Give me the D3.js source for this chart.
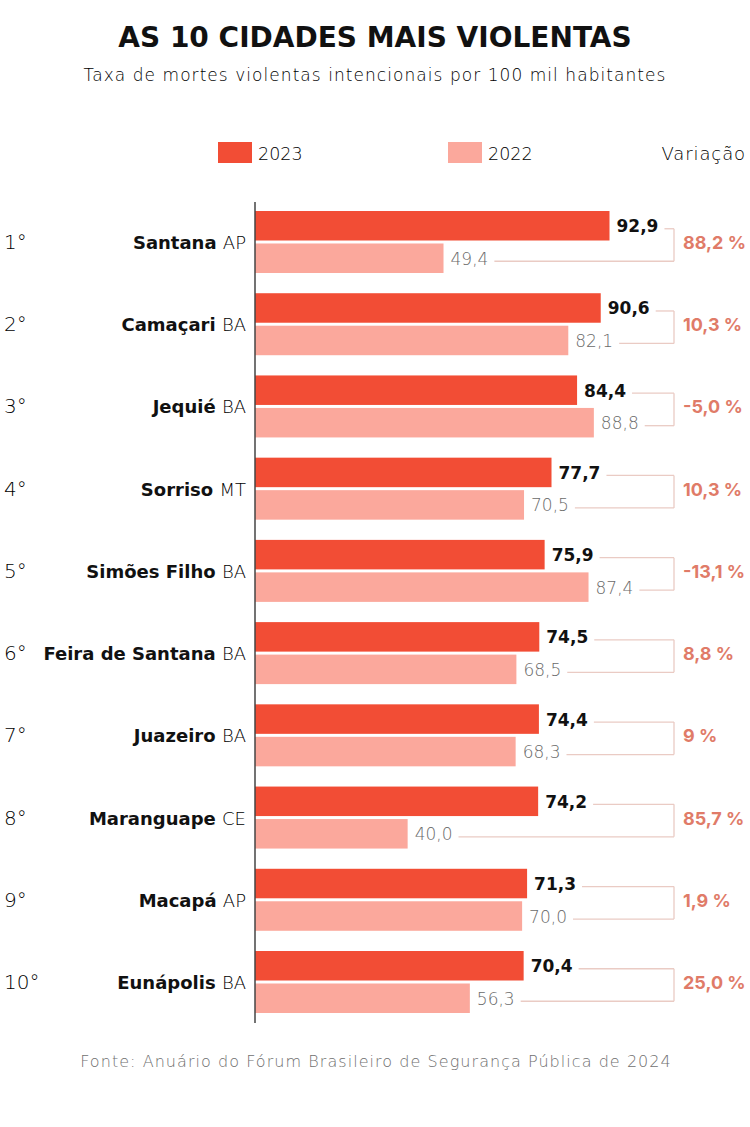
<!DOCTYPE html>
<html><head><meta charset="utf-8">
<script src="https://cdn.jsdelivr.net/npm/d3@7"></script>
<style>body{margin:0;background:#fff}svg{display:block}</style>
</head><body>
<svg id="c" width="750" height="1127"></svg>
<script>
const ranks = ["1°","2°","3°","4°","5°","6°","7°","8°","9°","10°"];
const cities = ["Santana","Camaçari","Jequié","Sorriso","Simões Filho","Feira de Santana","Juazeiro","Maranguape","Macapá","Eunápolis"];
const states = ["AP","BA","BA","MT","BA","BA","BA","CE","AP","BA"];
const series = ["2023","2022"];
const values2023 = [92.9,90.6,84.4,77.7,75.9,74.5,74.4,74.2,71.3,70.4];
const values2022 = [49.4,82.1,88.8,70.5,87.4,68.5,68.3,40.0,70.0,56.3];
const variation = ["88,2 %","10,3 %","-5,0 %","10,3 %","-13,1 %","8,8 %","9 %","85,7 %","1,9 %","25,0 %"];

const FONT = "'DejaVu Sans', sans-serif";
const FONT2 = "Inter, 'DejaVu Sans', sans-serif";
const C23 = "#f24d35", C22 = "#fba89c", CVAR = "#e07b68", CBR = "#eacbc4";
const fmt = v => v.toFixed(1).replace(".", ",");

const svg = d3.select("#c").style("font-family", FONT);

svg.append("text").attr("x",375).attr("y",47).attr("text-anchor","middle")
  .attr("font-size",28).attr("font-weight",700).attr("fill","#111")
  .text("AS 10 CIDADES MAIS VIOLENTAS");
svg.append("text").attr("x",375).attr("y",81).attr("text-anchor","middle")
  .attr("font-size",17).attr("font-weight",200).attr("fill","#000").attr("letter-spacing",1.05)
  .text("Taxa de mortes violentas intencionais por 100 mil habitantes");

// legend
const color = d3.scaleOrdinal().domain(series).range([C23, C22]);
const legX = [218, 448];
series.forEach((s,i)=>{
  svg.append("rect").attr("x",legX[i]).attr("y",142).attr("width",34).attr("height",21).attr("fill",color(s));
  svg.append("text").attr("x",legX[i]+40).attr("y",160).attr("font-size",17.5).attr("font-weight",200).attr("fill","#000").text(s);
});
svg.append("text").attr("x",746).attr("y",160).attr("text-anchor","end").attr("font-size",18).attr("font-weight",200).attr("fill","#000").attr("letter-spacing",0.9).text("Variação");

const x = d3.scaleLinear().domain([0,100]).range([255, 636.6]);
const y = d3.scaleBand().domain(cities).range([211, 1013]).paddingInner(0.246);
const ys = d3.scaleBand().domain(series).range([0, y.bandwidth()]).paddingInner(0.092);

const rows = cities.map((c,i)=>({city:c, state:states[i], rank:ranks[i], v: {"2023":values2023[i], "2022":values2022[i]}, varTxt: variation[i]}));

const BX = 674;
const g = svg.append("g");
rows.forEach(r=>{
  const gy = y(r.city), cy = gy + y.bandwidth()/2;
  g.append("text").attr("x",4).attr("y",cy+7).attr("font-size",20).attr("font-weight",200).attr("fill","#000").text(r.rank);
  const t = g.append("text").attr("x",246).attr("y",cy+7).attr("text-anchor","end").attr("font-size",18).attr("fill","#111");
  t.append("tspan").attr("font-weight",700).text(r.city + " ");
  t.append("tspan").attr("font-weight",200).attr("fill","#000").text(r.state);
  const ends = [];
  series.forEach(s=>{
    const by = gy + ys(s), bh = ys.bandwidth();
    g.append("rect").attr("x",x(0)).attr("y",by).attr("width",x(r.v[s])-x(0)).attr("height",bh).attr("fill",color(s));
    const lab = g.append("text").attr("x",x(r.v[s])+7).attr("y",by+bh/2+6.5)
      .attr("font-size",17).attr("font-weight", s==="2023"?700:200)
      .attr("fill", s==="2023"?"#111":"#6a6a6a").text(fmt(r.v[s]));
    const w = lab.node().getComputedTextLength();
    const ly = by + bh/2 + 3;
    g.append("line").attr("x1",x(r.v[s])+7+w+6).attr("x2",BX).attr("y1",ly).attr("y2",ly).attr("stroke",CBR).attr("stroke-width",1.3);
    ends.push(ly);
  });
  g.append("line").attr("x1",BX).attr("x2",BX).attr("y1",ends[0]).attr("y2",ends[1]).attr("stroke",CBR).attr("stroke-width",1.3);
  g.append("text").attr("x",683).attr("y",cy+7).attr("font-family",FONT2).attr("font-size",18).attr("font-weight",700).attr("fill",CVAR).text(r.varTxt);
});

svg.append("line").attr("x1",255).attr("x2",255).attr("y1",202).attr("y2",1023).attr("stroke","#444").attr("stroke-width",1.5);

svg.append("text").attr("x",376).attr("y",1067).attr("text-anchor","middle").attr("font-size",16).attr("font-weight",200).attr("fill","#6f6f6f").attr("letter-spacing",1.05)
  .text("Fonte: Anuário do Fórum Brasileiro de Segurança Pública de 2024");
</script>
</body></html>
